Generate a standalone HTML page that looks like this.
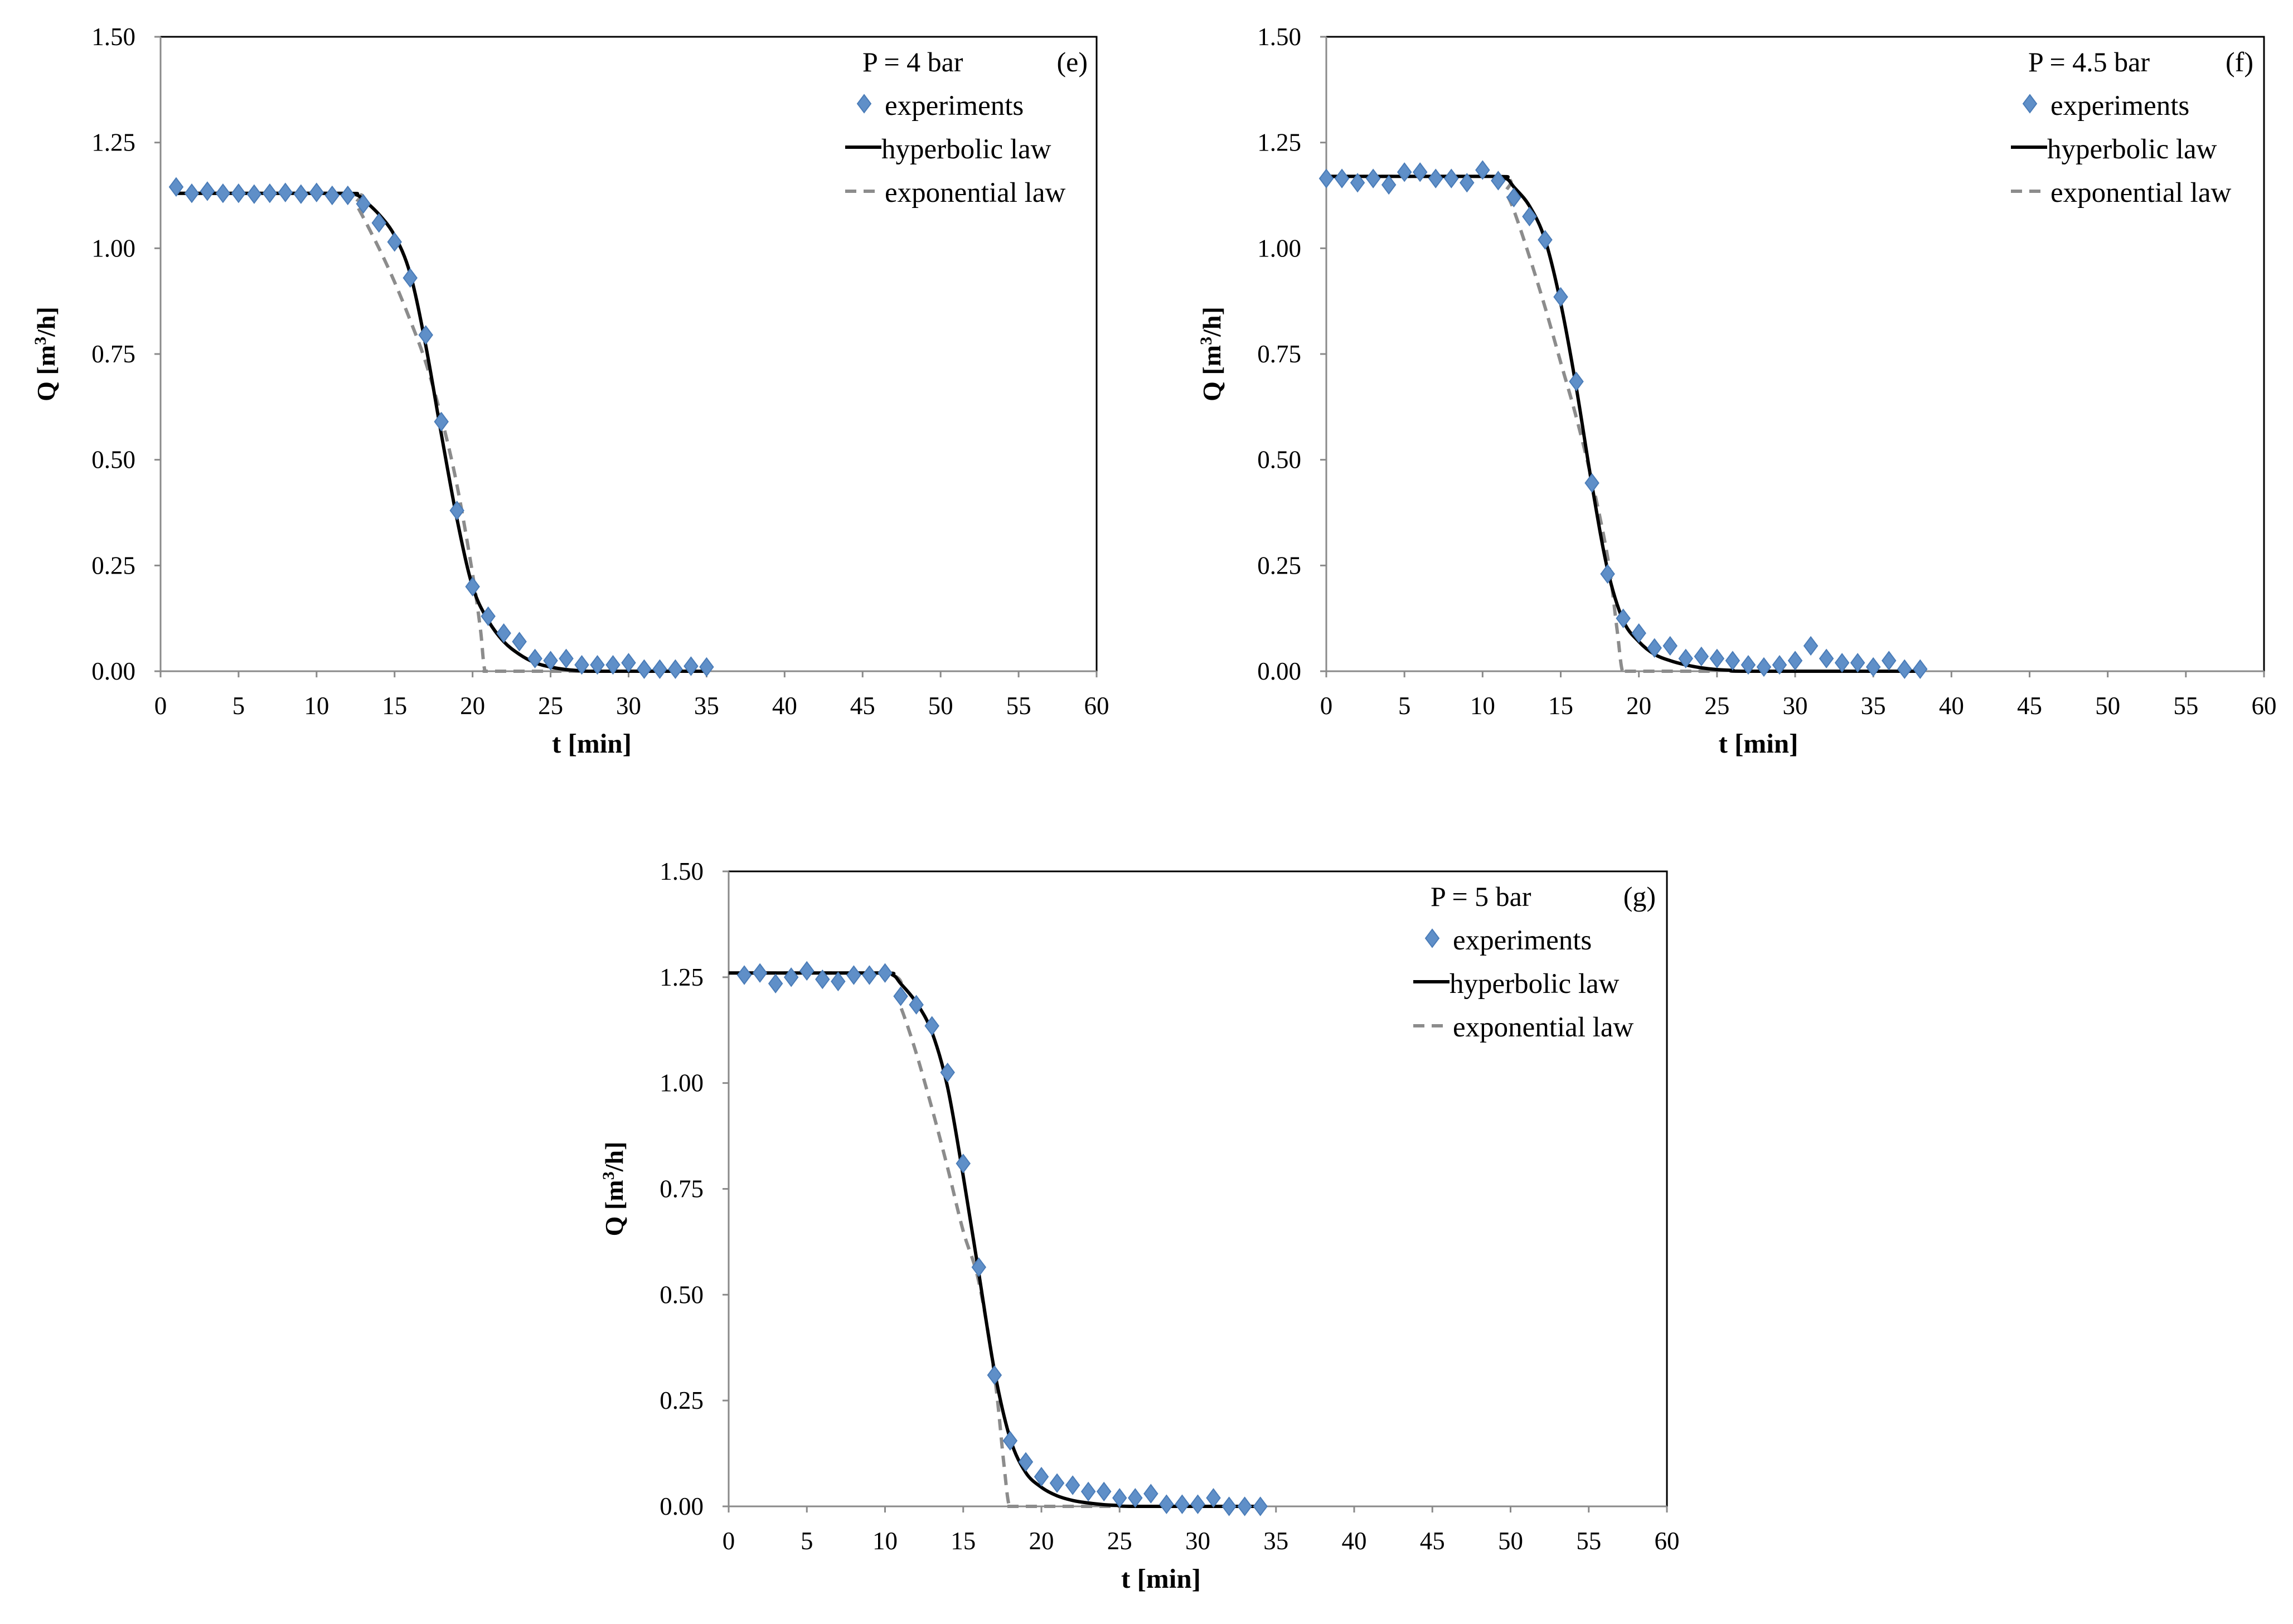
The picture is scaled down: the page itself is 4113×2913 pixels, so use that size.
<!DOCTYPE html>
<html><head><meta charset="utf-8"><style>
html,body{margin:0;padding:0;background:#fff;}
svg{display:block;font-family:"Liberation Serif",serif;}
</style></head><body>
<svg id="fig" width="4113" height="2913" viewBox="0 0 4113 2913" xmlns="http://www.w3.org/2000/svg"></svg>
<script>
// ---- data ----
const xTicks = [0,5,10,15,20,25,30,35,40,45,50,55,60];
const yTicks = [0,0.25,0.5,0.75,1.0,1.25,1.5];
const yTickLabels = ["0.00","0.25","0.50","0.75","1.00","1.25","1.50"];

const eExpT = [1,2,3,4,5,6,7,8,9,10,11,12,13,14,15,16,17,18,19,20,21,22,23,24,25,26,27,28,29,30,31,32,33,34,35];
const eExpQ = [1.145,1.13,1.135,1.13,1.13,1.128,1.13,1.132,1.128,1.132,1.125,1.125,1.105,1.06,1.015,0.93,0.795,0.59,0.38,0.2,0.13,0.09,0.07,0.03,0.025,0.03,0.015,0.015,0.015,0.02,0.005,0.005,0.005,0.012,0.01];
const eHypT = [1,11.5,12.5,13,14,15,16,17,18,19,20,21,22,23,24,25,26,27,28,35];
const eHypQ = [1.13,1.13,1.127,1.115,1.08,1.03,0.94,0.77,0.56,0.36,0.2,0.12,0.07,0.04,0.02,0.01,0.004,0.001,0,0];
const eExpLawT = [1,12,12.6,14,15,16,17,18,19,20,20.5,20.8,21.3,27];
const eExpLawQ = [1.13,1.13,1.1,1.0,0.92,0.83,0.73,0.6,0.44,0.23,0.1,0.0,0,0];

const fExpT = [0,1,2,3,4,5,6,7,8,9,10,11,12,13,14,15,16,17,18,19,20,21,22,23,24,25,26,27,28,29,30,31,32,33,34,35,36,37,38];
const fExpQ = [1.165,1.165,1.155,1.165,1.15,1.18,1.18,1.165,1.165,1.155,1.185,1.16,1.12,1.075,1.02,0.885,0.685,0.445,0.23,0.125,0.09,0.055,0.06,0.03,0.035,0.03,0.025,0.015,0.01,0.015,0.025,0.06,0.03,0.02,0.02,0.01,0.025,0.005,0.005];
const fHypT = [0,10.5,11.5,12,13,14,15,16,17,18,19,20,21,22,23,24,25,26,27,38];
const fHypQ = [1.17,1.17,1.165,1.145,1.1,1.02,0.87,0.67,0.44,0.24,0.12,0.07,0.04,0.025,0.015,0.008,0.004,0.002,0,0];
const fExpLawT = [0,10.8,11.5,12,13,14,15,16,17,18,18.6,18.95,19.4,25];
const fExpLawQ = [1.17,1.17,1.13,1.09,0.98,0.86,0.73,0.6,0.45,0.27,0.1,0,0,0];

const gExpT = [1,2,3,4,5,6,7,8,9,10,11,12,13,14,15,16,17,18,19,20,21,22,23,24,25,26,27,28,29,30,31,32,33,34];
const gExpQ = [1.255,1.26,1.235,1.25,1.265,1.245,1.24,1.255,1.255,1.26,1.205,1.185,1.135,1.025,0.81,0.565,0.31,0.155,0.105,0.07,0.055,0.05,0.035,0.035,0.02,0.02,0.03,0.005,0.005,0.005,0.02,0,0,0];
const gHypT = [0,9.5,10.5,11,12,13,14,15,16,17,18,19,20,21,22,23,24,25,26,34];
const gHypQ = [1.26,1.26,1.255,1.235,1.19,1.12,0.99,0.78,0.55,0.32,0.16,0.08,0.045,0.025,0.014,0.008,0.004,0.002,0,0];
const gExpLawT = [0,10,11,12,13,14,15,16,17,17.6,17.95,18.4,25];
const gExpLawQ = [1.26,1.26,1.18,1.07,0.94,0.8,0.65,0.53,0.31,0.1,0,0,0];

const NS = "http://www.w3.org/2000/svg";
const svg = document.getElementById('fig');
function mk(tag, attrs, parent){ const el=document.createElementNS(NS,tag); for(const k in attrs) el.setAttribute(k,attrs[k]); (parent||svg).appendChild(el); return el; }

function smoothPath(pts){
  let d = "M"+pts[0][0].toFixed(1)+","+pts[0][1].toFixed(1);
  for(let i=0;i<pts.length-1;i++){
    const p0=pts[Math.max(0,i-1)], p1=pts[i], p2=pts[i+1], p3=pts[Math.min(pts.length-1,i+2)];
    let c1=[p1[0]+(p2[0]-p0[0])/6, p1[1]+(p2[1]-p0[1])/6];
    let c2=[p2[0]-(p3[0]-p1[0])/6, p2[1]-(p3[1]-p1[1])/6];
    const lo=Math.min(p1[1],p2[1]), hi=Math.max(p1[1],p2[1]);
    c1[1]=Math.min(hi,Math.max(lo,c1[1])); c2[1]=Math.min(hi,Math.max(lo,c2[1]));
    d+=" C"+c1[0].toFixed(1)+","+c1[1].toFixed(1)+" "+c2[0].toFixed(1)+","+c2[1].toFixed(1)+" "+p2[0].toFixed(1)+","+p2[1].toFixed(1);
  }
  return d;
}

function chart(cfg){
  const g = mk('g',{});
  
  
  const X0=cfg.x0, X1=cfg.x1, Y0=cfg.y0, Y1=cfg.y1;
  const sx = t => X0 + (t/60)*(X1-X0);
  const sy = q => Y1 - (q/1.5)*(Y1-Y0);
  const fr = mk('rect',{x:X0,y:Y0,width:X1-X0,height:Y1-Y0,fill:'none',stroke:'#000','stroke-width':3},g);
  
  
  mk('line',{x1:X0,y1:Y0,x2:X0,y2:Y1,stroke:'#8a8a8a','stroke-width':3},g);
  mk('line',{x1:X0,y1:Y1,x2:X1,y2:Y1,stroke:'#8a8a8a','stroke-width':3},g);
  yTicks.forEach((v,i)=>{
    const y=sy(v);
    mk('line',{x1:X0-11,y1:y,x2:X0,y2:y,stroke:'#8a8a8a','stroke-width':3},g);
    const t=mk('text',{x:X0-45,y:y+15,'text-anchor':'end','font-size':45},g);
    t.textContent=yTickLabels[i];
    
    
  });
  xTicks.forEach(v=>{
    const x=sx(v);
    mk('line',{x1:x,y1:Y1,x2:x,y2:Y1+11,stroke:'#8a8a8a','stroke-width':3},g);
    const t=mk('text',{x:x,y:Y1+77,'text-anchor':'middle','font-size':45},g);
    t.textContent=String(v);
    
    
  });
  const xt=mk('text',{x:(X0+X1)/2-66,y:Y1+146,'text-anchor':'middle','font-size':49,'font-weight':'bold'},g);
  xt.textContent='t [min]';
  
  
  const yc=(Y0+Y1)/2;
  const yt=mk('text',{x:X0-190,y:yc,'text-anchor':'middle','font-size':46,'font-weight':'bold',transform:`rotate(-90 ${X0-190} ${yc})`},g);
  yt.innerHTML='Q [m<tspan baseline-shift="super" font-size="30">3</tspan>/h]';
  
  
  const ep=mk('path',{d:smoothPath(cfg.expT.map((t,i)=>[sx(t),sy(cfg.expQ[i])])),fill:'none',stroke:'#8c8c8c','stroke-width':6,'stroke-dasharray':'20 13'},g);
  
  
  const hp=mk('path',{d:smoothPath(cfg.hypT.map((t,i)=>[sx(t),sy(cfg.hypQ[i])])),fill:'none',stroke:'#000','stroke-width':6},g);
  
  
  cfg.dataT.forEach((t,i)=>{
    const x=sx(t), y=sy(cfg.dataQ[i]);
    const p=mk('polygon',{points:`${x},${y-16} ${x+12},${y} ${x},${y+16} ${x-12},${y}`,fill:'#5f8fc8',stroke:'#4a7cb8','stroke-width':2},g);
    
    
  });
  const L=X0+1259, T=Y0;
  const lg=mk('g',{},g);
  
  
  const pt=mk('text',{x:L,y:T+62,'font-size':50},lg); pt.textContent=cfg.pLabel;
  
  
  const pl=mk('text',{x:X0+1663,y:T+62,'text-anchor':'end','font-size':50},lg); pl.textContent=cfg.panel;
  
  
  const mx=L+3, my=T+120;
  mk('polygon',{points:`${mx},${my-16} ${mx+12},${my} ${mx},${my+16} ${mx-12},${my}`,fill:'#5f8fc8',stroke:'#4a7cb8','stroke-width':2},lg);
  const e1=mk('text',{x:L+40,y:T+140,'font-size':51},lg); e1.textContent='experiments';
  
  
  mk('line',{x1:L-31,y1:T+198,x2:L+34,y2:T+198,stroke:'#000','stroke-width':6},lg);
  const e2=mk('text',{x:L+34,y:T+218,'font-size':51},lg); e2.textContent='hyperbolic law';
  
  
  mk('line',{x1:L-31,y1:T+277,x2:L+34,y2:T+277,stroke:'#8c8c8c','stroke-width':6,'stroke-dasharray':'20 13'},lg);
  const e3=mk('text',{x:L+40,y:T+296,'font-size':51},lg); e3.textContent='exponential law';
  
  
}

chart({name:'chart-e',x0:288,x1:1967,y0:66,y1:1204,pLabel:'P = 4 bar',panel:'(e)',dataT:eExpT,dataQ:eExpQ,hypT:eHypT,hypQ:eHypQ,expT:eExpLawT,expQ:eExpLawQ});
chart({name:'chart-f',x0:2379,x1:4061,y0:66,y1:1204,pLabel:'P = 4.5 bar',panel:'(f)',dataT:fExpT,dataQ:fExpQ,hypT:fHypT,hypQ:fHypQ,expT:fExpLawT,expQ:fExpLawQ});
chart({name:'chart-g',x0:1307,x1:2990,y0:1563,y1:2702,pLabel:'P = 5 bar',panel:'(g)',dataT:gExpT,dataQ:gExpQ,hypT:gHypT,hypQ:gHypQ,expT:gExpLawT,expQ:gExpLawQ});
</script>
</body></html>
